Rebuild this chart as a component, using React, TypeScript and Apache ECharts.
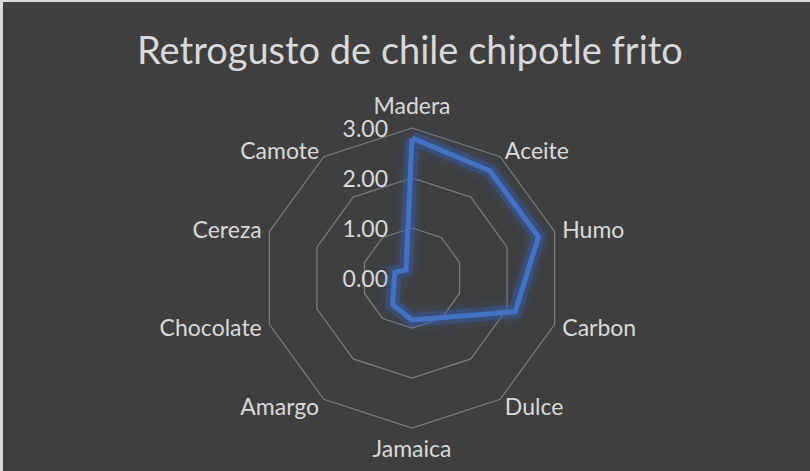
import React, { useEffect, useRef } from "react";
import * as echarts from "echarts";

const TITLE = "Retrogusto de chile chipotle frito";
// clockwise order from the top
const categories = ["Madera", "Aceite", "Humo", "Carbon", "Dulce", "Jamaica", "Amargo", "Chocolate", "Cereza", "Camote"];
const values = [2.8, 2.65, 2.66, 2.17, 0.98, 0.84, 0.66, 0.38, 0.36, 0.2];
const axisMin = 0;
const axisMax = 3;
const splitCount = 3;

export default function App() {
  const ref = useRef<HTMLDivElement>(null);
  useEffect(() => {
    if (!ref.current) return;
    const chart = echarts.init(ref.current, undefined, { renderer: "svg" });
    const textColor = "#d9d9d9";
    const font = "Lato";
    // ECharts radar runs counter-clockwise: reverse everything after the first axis
    const order = categories.map((_, i) => (i === 0 ? 0 : categories.length - i));
    const cats = order.map((i) => categories[i]);
    const vals = order.map((i) => values[i]);
    chart.setOption({
      animation: false,
      backgroundColor: "#404040",
      title: {
        text: TITLE,
        left: 129,
        top: 23,
        textStyle: { color: textColor, fontFamily: font, fontSize: 38, fontWeight: 400 },
      },
      radar: {
        center: [409, 276],
        radius: 150,
        startAngle: 90,
        shape: "polygon",
        splitNumber: splitCount,
        nameGap: 8,
        axisName: { color: textColor, fontFamily: font, fontSize: 23 },
        axisLine: { show: false },
        axisTick: { show: false },
        axisLabel: {
          show: false,
          color: textColor,
          fontFamily: font,
          fontSize: 23,
          margin: 24,
          formatter: (v: number) => v.toFixed(2),
        },
        splitLine: { lineStyle: { color: "#7f7f7f", width: 1.2 } },
        splitArea: { show: false },
        indicator: cats.map((name, i) => ({
          name,
          min: axisMin,
          max: axisMax,
          ...(i === 0 ? { axisLabel: { show: true } } : {}),
        })),
      },
      series: [
        {
          type: "radar",
          name: "glow",
          symbol: "none",
          silent: true,
          z: 1,
          data: [
            {
              value: vals,
              lineStyle: {
                color: "rgba(52,92,172,0.4)",
                width: 14,
                join: "miter",
                shadowBlur: 12,
                shadowColor: "rgba(52,92,172,0.75)",
              },
            },
          ],
        },
        {
          type: "radar",
          symbol: "none",
          z: 2,
          data: [
            {
              value: vals,
              lineStyle: {
                color: "#4472c4",
                width: 5,
                join: "miter",
              },
            },
          ],
        },
      ],
    });
    return () => chart.dispose();
  }, []);
  return (
    <div style={{ position: "fixed", left: 0, top: 0, width: 810, height: 471, background: "#dadada" }}>
      <div ref={ref} style={{ position: "absolute", left: 3, top: 2, width: 807, height: 469 }} />
    </div>
  );
}
